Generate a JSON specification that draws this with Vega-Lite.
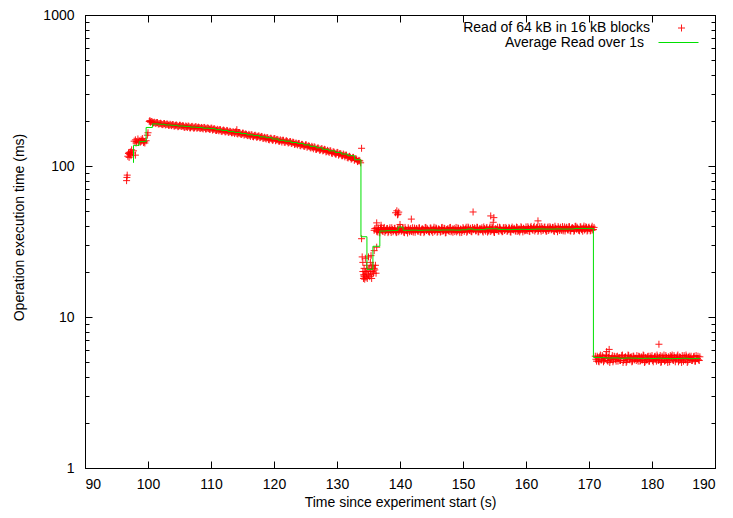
{
"$schema": "https://vega.github.io/schema/vega-lite/v6.json",
"width": 630, "height": 453,
"autosize": "none",
"padding": {"left": 85, "top": 15, "right": 18, "bottom": 50},
"background": "white",
"config": {"view": {"stroke": "#000", "strokeWidth": 1}, "font": "Liberation Sans"},
"datasets": {
"pts": [
{"t":96.6,"v":80},{"t":96.7,"v":87},{"t":96.65,"v":84},
{"t":96.8,"v":116},{"t":96.9,"v":121},{"t":97.0,"v":114},{"t":97.1,"v":119},{"t":97.2,"v":124},{"t":97.3,"v":117},{"t":97.4,"v":128},{"t":97.5,"v":122},{"t":97.7,"v":126},{"t":98.0,"v":118},{"t":97.0,"v":123},{"t":97.25,"v":120},
{"t":97.8,"v":146},{"t":98.0,"v":149},{"t":98.1,"v":142},{"t":98.2,"v":145},{"t":98.4,"v":151},{"t":98.6,"v":147},{"t":98.8,"v":144},{"t":99.0,"v":146},{"t":99.1,"v":152},{"t":99.2,"v":148},{"t":99.4,"v":145},{"t":99.5,"v":142},{"t":99.7,"v":147},{"t":98.5,"v":143},{"t":98.9,"v":149},{"t":99.3,"v":143},{"t":99.9,"v":160},{"t":100.0,"v":166},{"t":100.2,"v":197},{"t":100.3,"v":200},{"t":100.4,"v":195},
{"t":100.5,"v":197},{"t":100.75,"v":194},{"t":101.0,"v":195},{"t":101.25,"v":191},{"t":101.5,"v":194},{"t":101.75,"v":190},{"t":102.0,"v":192},{"t":102.25,"v":188},{"t":102.5,"v":191},{"t":102.75,"v":187},
{"t":103.0,"v":190},{"t":103.25,"v":186},{"t":103.5,"v":189},{"t":103.75,"v":185},{"t":104.0,"v":188},{"t":104.25,"v":184},{"t":104.5,"v":187},{"t":104.75,"v":182},{"t":105.0,"v":186},{"t":105.25,"v":183},
{"t":105.5,"v":185},{"t":105.75,"v":180},{"t":106.0,"v":184},{"t":106.25,"v":180},{"t":106.5,"v":183},{"t":106.75,"v":179},{"t":107.0,"v":183},{"t":107.25,"v":178},{"t":107.5,"v":182},{"t":107.75,"v":178},
{"t":108.0,"v":181},{"t":108.25,"v":177},{"t":108.5,"v":180},{"t":108.75,"v":176},{"t":109.0,"v":180},{"t":109.25,"v":176},{"t":109.5,"v":179},{"t":109.75,"v":175},{"t":110.0,"v":178},{"t":110.25,"v":173},
{"t":110.5,"v":177},{"t":110.75,"v":172},{"t":111.0,"v":175},{"t":111.25,"v":171},{"t":111.5,"v":174},{"t":111.75,"v":169},{"t":112.0,"v":173},{"t":112.25,"v":168},{"t":112.5,"v":172},{"t":112.75,"v":167},
{"t":113.0,"v":170},{"t":113.25,"v":166},{"t":113.5,"v":169},{"t":113.75,"v":164},{"t":114.0,"v":168},{"t":114.1,"v":174},{"t":114.25,"v":163},{"t":114.5,"v":166},{"t":114.75,"v":162},{"t":115.0,"v":165},
{"t":115.25,"v":160},{"t":115.5,"v":163},{"t":115.75,"v":159},{"t":116.0,"v":162},{"t":116.25,"v":157},{"t":116.5,"v":161},{"t":116.75,"v":156},{"t":117.0,"v":160},{"t":117.25,"v":155},{"t":117.5,"v":158},
{"t":117.75,"v":154},{"t":118.0,"v":157},{"t":118.25,"v":152},{"t":118.5,"v":155},{"t":118.75,"v":151},{"t":119.0,"v":154},{"t":119.25,"v":149},{"t":119.5,"v":153},{"t":119.75,"v":148},{"t":120.0,"v":152},
{"t":120.25,"v":147},{"t":120.5,"v":150},{"t":120.75,"v":146},{"t":121.0,"v":149},{"t":121.25,"v":144},{"t":121.5,"v":148},{"t":121.75,"v":143},{"t":122.0,"v":147},{"t":122.25,"v":142},{"t":122.5,"v":145},
{"t":122.75,"v":141},{"t":123.0,"v":144},{"t":123.25,"v":139},{"t":123.5,"v":142},{"t":123.75,"v":138},{"t":124.0,"v":141},{"t":124.25,"v":136},{"t":124.5,"v":139},{"t":124.75,"v":135},{"t":125.0,"v":138},
{"t":125.25,"v":133},{"t":125.5,"v":136},{"t":125.75,"v":132},{"t":126.0,"v":135},{"t":126.25,"v":130},{"t":126.5,"v":133},{"t":126.75,"v":129},{"t":127.0,"v":132},{"t":127.25,"v":127},{"t":127.5,"v":130},
{"t":127.75,"v":126},{"t":128.0,"v":129},{"t":128.25,"v":124},{"t":128.5,"v":127},{"t":128.75,"v":123},{"t":129.0,"v":126},{"t":129.25,"v":121},{"t":129.5,"v":124},{"t":129.75,"v":120},{"t":130.0,"v":123},
{"t":130.25,"v":118},{"t":130.5,"v":121},{"t":130.75,"v":117},{"t":131.0,"v":120},{"t":131.25,"v":115},{"t":131.5,"v":118},{"t":131.75,"v":113},{"t":132.0,"v":116},{"t":132.25,"v":111},{"t":132.5,"v":114},
{"t":132.75,"v":109},{"t":133.0,"v":112},{"t":133.25,"v":107},{"t":133.5,"v":109},{"t":133.75,"v":105},{"t":133.9,"v":131},
{"t":100.625,"v":197},{"t":100.875,"v":193},{"t":101.125,"v":193},{"t":101.375,"v":194},{"t":101.625,"v":190},{"t":101.875,"v":191},{"t":102.125,"v":190},{"t":102.375,"v":188},{"t":102.625,"v":191},{"t":102.875,"v":188},
{"t":103.125,"v":189},{"t":103.375,"v":186},{"t":103.625,"v":187},{"t":103.875,"v":188},{"t":104.125,"v":184},{"t":104.375,"v":186},{"t":104.625,"v":185},{"t":104.875,"v":183},{"t":105.125,"v":186},{"t":105.375,"v":183},
{"t":105.625,"v":184},{"t":105.875,"v":181},{"t":106.125,"v":182},{"t":106.375,"v":184},{"t":106.625,"v":179},{"t":106.875,"v":182},{"t":107.125,"v":181},{"t":107.375,"v":179},{"t":107.625,"v":182},{"t":107.875,"v":179},
{"t":108.125,"v":180},{"t":108.375,"v":178},{"t":108.625,"v":178},{"t":108.875,"v":180},{"t":109.125,"v":176},{"t":109.375,"v":178},{"t":109.625,"v":177},{"t":109.875,"v":175},{"t":110.125,"v":178},{"t":110.375,"v":175},
{"t":110.625,"v":175},{"t":110.875,"v":172},{"t":111.125,"v":173},{"t":111.375,"v":174},{"t":111.625,"v":170},{"t":111.875,"v":172},{"t":112.125,"v":171},{"t":112.375,"v":169},{"t":112.625,"v":171},{"t":112.875,"v":168},
{"t":113.125,"v":169},{"t":113.375,"v":166},{"t":113.625,"v":167},{"t":113.875,"v":168},{"t":114.125,"v":164},{"t":114.375,"v":166},{"t":114.625,"v":164},{"t":114.875,"v":162},{"t":115.125,"v":165},{"t":115.375,"v":162},
{"t":115.625,"v":162},{"t":115.875,"v":159},{"t":116.125,"v":160},{"t":116.375,"v":161},{"t":116.625,"v":157},{"t":116.875,"v":159},{"t":117.125,"v":158},{"t":117.375,"v":156},{"t":117.625,"v":158},{"t":117.875,"v":155},
{"t":118.125,"v":156},{"t":118.375,"v":153},{"t":118.625,"v":153},{"t":118.875,"v":154},{"t":119.125,"v":150},{"t":119.375,"v":152},{"t":119.625,"v":151},{"t":119.875,"v":149},{"t":120.125,"v":152},{"t":120.375,"v":149},
{"t":120.625,"v":149},{"t":120.875,"v":146},{"t":121.125,"v":147},{"t":121.375,"v":148},{"t":121.625,"v":144},{"t":121.875,"v":146},{"t":122.125,"v":145},{"t":122.375,"v":143},{"t":122.625,"v":145},{"t":122.875,"v":142},
{"t":123.125,"v":143},{"t":123.375,"v":140},{"t":123.625,"v":140},{"t":123.875,"v":141},{"t":124.125,"v":137},{"t":124.375,"v":139},{"t":124.625,"v":137},{"t":124.875,"v":135},{"t":125.125,"v":138},{"t":125.375,"v":135},
{"t":125.625,"v":135},{"t":125.875,"v":132},{"t":126.125,"v":133},{"t":126.375,"v":134},{"t":126.625,"v":129},{"t":126.875,"v":131},{"t":127.125,"v":130},{"t":127.375,"v":128},{"t":127.625,"v":130},{"t":127.875,"v":127},
{"t":128.125,"v":128},{"t":128.375,"v":125},{"t":128.625,"v":125},{"t":128.875,"v":126},{"t":129.125,"v":122},{"t":129.375,"v":124},{"t":129.625,"v":122},{"t":129.875,"v":120},{"t":130.125,"v":123},{"t":130.375,"v":120},
{"t":130.625,"v":120},{"t":130.875,"v":117},{"t":131.125,"v":118},{"t":131.375,"v":118},{"t":131.625,"v":114},{"t":131.875,"v":115},{"t":132.125,"v":114},{"t":132.375,"v":112},{"t":132.625,"v":114},{"t":132.875,"v":111},
{"t":133.125,"v":110},{"t":133.375,"v":108},{"t":133.625,"v":108},
{"t":133.9,"v":33},{"t":134.0,"v":25},{"t":134.1,"v":23},{"t":134.1,"v":20},{"t":134.2,"v":19},{"t":134.2,"v":18},{"t":134.3,"v":18.5},{"t":134.3,"v":21},{"t":134.4,"v":19},{"t":134.4,"v":17.8},
{"t":134.5,"v":20},{"t":134.5,"v":24.5},{"t":134.6,"v":18.3},{"t":134.7,"v":19.5},{"t":134.7,"v":22},{"t":134.8,"v":18},{"t":134.9,"v":20.5},{"t":135.0,"v":19},{"t":135.0,"v":25},{"t":135.1,"v":21},
{"t":135.2,"v":18.5},{"t":135.3,"v":20},{"t":135.3,"v":23},{"t":135.4,"v":19},{"t":135.4,"v":25.5},{"t":135.5,"v":21.5},{"t":135.5,"v":18},{"t":135.6,"v":20},{"t":135.7,"v":22},{"t":135.8,"v":19.5},
{"t":135.9,"v":21},{"t":135.9,"v":27.5},{"t":136.0,"v":20.5},{"t":136.1,"v":22},{"t":136.2,"v":19.5},{"t":136.3,"v":29},{"t":135.9,"v":37.5},{"t":136.0,"v":38.5},{"t":136.3,"v":42},{"t":137.0,"v":40.5},
{"t":139.3,"v":49},{"t":139.5,"v":50.5},{"t":139.7,"v":48},{"t":139.8,"v":49.5},{"t":139.6,"v":47.5},{"t":140.0,"v":41},{"t":141.8,"v":44.5},{"t":151.6,"v":49.6},{"t":154.4,"v":46.7},{"t":154.9,"v":45.5},{"t":154.8,"v":42.4},{"t":161.9,"v":43.3},
{"t":136.2,"v":38.8},{"t":136.4,"v":36.6},{"t":136.6,"v":38.0},{"t":136.8,"v":36.1},{"t":137.0,"v":39.1},{"t":137.2,"v":37.2},{"t":137.4,"v":38.4},{"t":137.6,"v":36.4},{"t":137.8,"v":37.6},{"t":138.0,"v":38.6},
{"t":138.2,"v":36.9},{"t":138.4,"v":39.0},{"t":138.6,"v":36.3},{"t":138.8,"v":37.9},{"t":139.0,"v":37.4},{"t":139.2,"v":38.7},{"t":139.4,"v":36.2},{"t":139.6,"v":38.2},{"t":139.8,"v":36.7},{"t":140.0,"v":38.9},
{"t":140.2,"v":37.0},{"t":140.4,"v":38.5},{"t":140.6,"v":36.5},{"t":140.8,"v":39.2},{"t":141.0,"v":37.3},{"t":141.2,"v":36.0},{"t":141.4,"v":38.1},{"t":141.6,"v":37.7},{"t":141.8,"v":36.8},{"t":142.0,"v":39.0},
{"t":142.2,"v":37.5},{"t":142.4,"v":36.4},{"t":142.6,"v":38.6},{"t":142.8,"v":37.1},{"t":143.0,"v":38.9},{"t":143.2,"v":36.6},{"t":143.4,"v":37.8},{"t":143.6,"v":38.3},{"t":143.8,"v":36.2},{"t":144.0,"v":39.1},
{"t":144.2,"v":37.4},{"t":144.4,"v":38.0},{"t":144.6,"v":36.7},{"t":144.8,"v":38.8},{"t":145.0,"v":37.2},{"t":145.2,"v":36.3},{"t":145.4,"v":39.3},{"t":145.6,"v":37.6},{"t":145.8,"v":38.4},{"t":146.0,"v":36.9},
{"t":146.2,"v":38.1},{"t":146.4,"v":36.5},{"t":146.6,"v":39.0},{"t":146.8,"v":37.0},{"t":147.0,"v":38.7},{"t":147.2,"v":36.1},{"t":147.4,"v":37.9},{"t":147.6,"v":38.5},{"t":147.8,"v":36.8},{"t":148.0,"v":39.2},
{"t":148.2,"v":37.3},{"t":148.4,"v":36.4},{"t":148.6,"v":38.6},{"t":148.8,"v":37.7},{"t":149.0,"v":36.6},{"t":149.2,"v":38.9},{"t":149.4,"v":37.1},{"t":149.6,"v":38.2},{"t":149.8,"v":36.3},
{"t":150.0,"v":39.1},{"t":150.2,"v":36.9},{"t":150.4,"v":38.3},{"t":150.6,"v":36.4},{"t":150.8,"v":39.4},{"t":151.0,"v":37.5},{"t":151.2,"v":38.7},{"t":151.4,"v":36.7},{"t":151.6,"v":37.9},{"t":151.8,"v":38.9},
{"t":152.0,"v":37.2},{"t":152.2,"v":39.3},{"t":152.4,"v":36.6},{"t":152.6,"v":38.2},{"t":152.8,"v":37.7},{"t":153.0,"v":39.0},{"t":153.2,"v":36.5},{"t":153.4,"v":38.5},{"t":153.6,"v":37.0},{"t":153.8,"v":39.2},
{"t":154.0,"v":37.4},{"t":154.2,"v":38.8},{"t":154.4,"v":36.8},{"t":154.6,"v":39.5},{"t":154.8,"v":37.6},{"t":155.0,"v":36.3},{"t":155.2,"v":38.4},{"t":155.4,"v":38.0},{"t":155.6,"v":37.1},{"t":155.8,"v":39.3},
{"t":156.0,"v":37.8},{"t":156.2,"v":36.7},{"t":156.4,"v":38.9},{"t":156.6,"v":37.4},{"t":156.8,"v":39.2},{"t":157.0,"v":36.9},{"t":157.2,"v":38.1},{"t":157.4,"v":38.6},{"t":157.6,"v":36.5},{"t":157.8,"v":39.4},
{"t":158.0,"v":37.7},{"t":158.2,"v":38.3},{"t":158.4,"v":37.0},{"t":158.6,"v":39.1},{"t":158.8,"v":37.5},{"t":159.0,"v":36.6},{"t":159.2,"v":39.6},{"t":159.4,"v":37.9},{"t":159.6,"v":38.7},{"t":159.8,"v":37.2},
{"t":160.0,"v":39.5},{"t":160.2,"v":37.3},{"t":160.4,"v":38.7},{"t":160.6,"v":36.8},{"t":160.8,"v":39.8},{"t":161.0,"v":37.9},{"t":161.2,"v":39.1},{"t":161.4,"v":37.1},{"t":161.6,"v":38.3},{"t":161.8,"v":39.3},
{"t":162.0,"v":37.6},{"t":162.2,"v":39.7},{"t":162.4,"v":37.0},{"t":162.6,"v":38.6},{"t":162.8,"v":38.1},{"t":163.0,"v":39.4},{"t":163.2,"v":36.9},{"t":163.4,"v":38.9},{"t":163.6,"v":37.4},{"t":163.8,"v":39.6},
{"t":164.0,"v":37.8},{"t":164.2,"v":39.2},{"t":164.4,"v":37.2},{"t":164.6,"v":39.9},{"t":164.8,"v":38.0},{"t":165.0,"v":36.7},{"t":165.2,"v":38.8},{"t":165.4,"v":38.4},{"t":165.6,"v":37.5},{"t":165.8,"v":39.7},
{"t":166.0,"v":38.2},{"t":166.2,"v":37.1},{"t":166.4,"v":39.3},{"t":166.6,"v":37.8},{"t":166.8,"v":39.6},{"t":167.0,"v":37.3},{"t":167.2,"v":38.5},{"t":167.4,"v":39.0},{"t":167.6,"v":36.9},{"t":167.8,"v":39.8},
{"t":168.0,"v":38.1},{"t":168.2,"v":38.7},{"t":168.4,"v":37.4},{"t":168.6,"v":39.5},{"t":168.8,"v":37.9},{"t":169.0,"v":37.0},{"t":169.2,"v":40.0},{"t":169.4,"v":38.3},{"t":169.6,"v":39.1},{"t":169.8,"v":37.6},
{"t":170.0,"v":39.4},{"t":170.2,"v":37.2},{"t":170.4,"v":38.9},{"t":170.6,"v":37.7},{"t":170.8,"v":39.2},
{"t":136.3,"v":37.0},{"t":136.5,"v":38.9},{"t":136.7,"v":36.4},{"t":136.9,"v":38.3},{"t":137.1,"v":37.8},{"t":137.3,"v":36.8},{"t":137.5,"v":39.2},{"t":137.7,"v":37.3},{"t":137.9,"v":38.5},{"t":138.1,"v":36.2},
{"t":138.3,"v":38.0},{"t":138.5,"v":37.5},{"t":138.7,"v":39.0},{"t":138.9,"v":36.7},{"t":139.1,"v":38.6},{"t":139.3,"v":37.1},{"t":139.5,"v":36.5},{"t":139.7,"v":38.8},{"t":139.9,"v":37.6},{"t":140.1,"v":38.2},
{"t":140.3,"v":37.3},{"t":140.5,"v":38.5},{"t":140.7,"v":36.2},{"t":140.9,"v":38.0},{"t":141.1,"v":37.5},{"t":141.3,"v":39.0},{"t":141.5,"v":36.7},{"t":141.7,"v":38.6},{"t":141.9,"v":37.1},{"t":142.1,"v":36.5},
{"t":142.3,"v":38.8},{"t":142.5,"v":37.6},{"t":142.7,"v":38.2},{"t":142.9,"v":37.0},{"t":143.1,"v":38.9},{"t":143.3,"v":36.4},{"t":143.5,"v":38.3},{"t":143.7,"v":37.8},{"t":143.9,"v":36.8},{"t":144.1,"v":39.2},
{"t":144.3,"v":38.6},{"t":144.5,"v":37.1},{"t":144.7,"v":36.5},{"t":144.9,"v":38.8},{"t":145.1,"v":37.6},{"t":145.3,"v":38.2},{"t":145.5,"v":37.0},{"t":145.7,"v":38.9},{"t":145.9,"v":36.4},{"t":146.1,"v":38.3},
{"t":146.3,"v":37.8},{"t":146.5,"v":36.8},{"t":146.7,"v":39.2},{"t":146.9,"v":37.3},{"t":147.1,"v":38.5},{"t":147.3,"v":36.2},{"t":147.5,"v":38.0},{"t":147.7,"v":37.5},{"t":147.9,"v":39.0},{"t":148.1,"v":36.7},
{"t":148.3,"v":38.3},{"t":148.5,"v":37.8},{"t":148.7,"v":36.8},{"t":148.9,"v":39.2},{"t":149.1,"v":37.3},{"t":149.3,"v":38.5},{"t":149.5,"v":36.2},{"t":149.7,"v":38.0},{"t":149.9,"v":37.5},
{"t":150.1,"v":38.3},{"t":150.3,"v":37.8},{"t":150.5,"v":39.3},{"t":150.7,"v":37.0},{"t":150.9,"v":38.9},{"t":151.1,"v":37.4},{"t":151.3,"v":36.8},{"t":151.5,"v":39.1},{"t":151.7,"v":37.9},{"t":151.9,"v":38.5},
{"t":152.1,"v":37.3},{"t":152.3,"v":39.2},{"t":152.5,"v":36.7},{"t":152.7,"v":38.6},{"t":152.9,"v":38.1},{"t":153.1,"v":37.1},{"t":153.3,"v":39.5},{"t":153.5,"v":37.6},{"t":153.7,"v":38.8},{"t":153.9,"v":36.5},
{"t":154.1,"v":37.1},{"t":154.3,"v":39.5},{"t":154.5,"v":37.6},{"t":154.7,"v":38.8},{"t":154.9,"v":36.5},{"t":155.1,"v":38.3},{"t":155.3,"v":37.8},{"t":155.5,"v":39.3},{"t":155.7,"v":37.0},{"t":155.9,"v":38.9},
{"t":156.1,"v":37.4},{"t":156.3,"v":36.8},{"t":156.5,"v":39.1},{"t":156.7,"v":37.9},{"t":156.9,"v":38.5},{"t":157.1,"v":37.3},{"t":157.3,"v":39.2},{"t":157.5,"v":36.7},{"t":157.7,"v":38.6},{"t":157.9,"v":38.1},
{"t":158.1,"v":38.7},{"t":158.3,"v":37.2},{"t":158.5,"v":39.4},{"t":158.7,"v":36.9},{"t":158.9,"v":38.4},{"t":159.1,"v":37.7},{"t":159.3,"v":39.0},{"t":159.5,"v":36.6},{"t":159.7,"v":38.2},{"t":159.9,"v":37.5},
{"t":160.1,"v":37.7},{"t":160.3,"v":39.6},{"t":160.5,"v":37.1},{"t":160.7,"v":39.0},{"t":160.9,"v":38.5},{"t":161.1,"v":37.5},{"t":161.3,"v":39.9},{"t":161.5,"v":38.0},{"t":161.7,"v":39.2},{"t":161.9,"v":36.9},
{"t":162.1,"v":38.7},{"t":162.3,"v":38.2},{"t":162.5,"v":39.7},{"t":162.7,"v":37.4},{"t":162.9,"v":39.3},{"t":163.1,"v":37.8},{"t":163.3,"v":37.2},{"t":163.5,"v":39.5},{"t":163.7,"v":38.3},{"t":163.9,"v":38.9},
{"t":164.1,"v":38.0},{"t":164.3,"v":39.2},{"t":164.5,"v":36.9},{"t":164.7,"v":38.7},{"t":164.9,"v":38.2},{"t":165.1,"v":39.7},{"t":165.3,"v":37.4},{"t":165.5,"v":39.3},{"t":165.7,"v":37.8},{"t":165.9,"v":37.2},
{"t":166.1,"v":39.5},{"t":166.3,"v":38.3},{"t":166.5,"v":38.9},{"t":166.7,"v":37.7},{"t":166.9,"v":39.6},{"t":167.1,"v":37.1},{"t":167.3,"v":39.0},{"t":167.5,"v":38.5},{"t":167.7,"v":37.5},{"t":167.9,"v":39.9},
{"t":168.1,"v":39.3},{"t":168.3,"v":37.8},{"t":168.5,"v":37.2},{"t":168.7,"v":39.5},{"t":168.9,"v":38.3},{"t":169.1,"v":38.9},{"t":169.3,"v":37.7},{"t":169.5,"v":39.6},{"t":169.7,"v":37.1},{"t":169.9,"v":39.0},
{"t":170.1,"v":38.5},{"t":170.3,"v":37.5},{"t":170.5,"v":39.9},{"t":170.7,"v":38.0},
{"t":171.0,"v":5.5},{"t":171.2,"v":5.1},{"t":171.4,"v":5.4},{"t":171.6,"v":5.05},{"t":171.8,"v":5.6},{"t":172.0,"v":5.2},{"t":172.2,"v":5.45},{"t":172.4,"v":5.15},{"t":172.6,"v":5.3},{"t":172.8,"v":5.55},
{"t":173.0,"v":5.1},{"t":173.2,"v":5.5},{"t":173.4,"v":5.2},{"t":173.6,"v":5.35},{"t":173.8,"v":5.05},{"t":174.0,"v":5.5},{"t":174.2,"v":5.25},{"t":174.4,"v":5.45},{"t":174.6,"v":5.1},{"t":174.8,"v":5.4},
{"t":175.0,"v":5.15},{"t":175.2,"v":5.55},{"t":175.4,"v":5.0},{"t":175.6,"v":5.35},{"t":175.8,"v":5.45},{"t":176.0,"v":5.1},{"t":176.2,"v":5.6},{"t":176.4,"v":5.25},{"t":176.6,"v":5.4},{"t":176.8,"v":5.05},
{"t":177.0,"v":5.5},{"t":177.2,"v":5.2},{"t":177.4,"v":5.3},{"t":177.6,"v":5.55},{"t":177.8,"v":5.1},{"t":178.0,"v":5.45},{"t":178.2,"v":5.15},{"t":178.4,"v":5.35},{"t":178.6,"v":5.6},{"t":178.8,"v":5.0},
{"t":179.0,"v":5.4},{"t":179.2,"v":5.2},{"t":179.4,"v":5.5},{"t":179.6,"v":5.1},{"t":179.8,"v":5.35},{"t":180.0,"v":5.55},{"t":180.2,"v":5.05},{"t":180.4,"v":5.45},{"t":180.6,"v":5.25},{"t":180.8,"v":5.6},
{"t":181.0,"v":5.15},{"t":181.2,"v":5.4},{"t":181.4,"v":5.0},{"t":181.6,"v":5.5},{"t":181.8,"v":5.3},{"t":182.0,"v":5.1},{"t":182.2,"v":5.55},{"t":182.4,"v":5.2},{"t":182.6,"v":5.45},{"t":182.8,"v":5.05},
{"t":183.0,"v":5.35},{"t":183.2,"v":5.6},{"t":183.4,"v":5.15},{"t":183.6,"v":5.4},{"t":183.8,"v":5.25},{"t":184.0,"v":5.5},{"t":184.2,"v":5.05},{"t":184.4,"v":5.45},{"t":184.6,"v":5.2},{"t":184.8,"v":5.55},
{"t":185.0,"v":5.1},{"t":185.2,"v":5.35},{"t":185.4,"v":5.6},{"t":185.6,"v":5.0},{"t":185.8,"v":5.4},{"t":186.0,"v":5.25},{"t":186.2,"v":5.5},{"t":186.4,"v":5.15},{"t":186.6,"v":5.45},{"t":186.8,"v":5.1},
{"t":187.0,"v":5.55},{"t":187.2,"v":5.3},{"t":187.4,"v":5.2},{"t":187.6,"v":5.45},
{"t":171.1,"v":5.25},{"t":171.3,"v":5.5},{"t":171.5,"v":5.1},{"t":171.7,"v":5.45},{"t":171.9,"v":5.2},{"t":172.1,"v":5.55},{"t":172.3,"v":5.05},{"t":172.5,"v":5.35},{"t":172.7,"v":5.6},{"t":172.9,"v":5.15},
{"t":173.1,"v":5.4},{"t":173.3,"v":5.0},{"t":173.5,"v":5.3},{"t":173.7,"v":5.55},{"t":173.9,"v":5.2},{"t":174.1,"v":5.45},{"t":174.3,"v":5.1},{"t":174.5,"v":5.5},{"t":174.7,"v":5.35},{"t":174.9,"v":5.15},
{"t":175.1,"v":5.35},{"t":175.3,"v":5.6},{"t":175.5,"v":5.15},{"t":175.7,"v":5.4},{"t":175.9,"v":5.0},{"t":176.1,"v":5.3},{"t":176.3,"v":5.55},{"t":176.5,"v":5.2},{"t":176.7,"v":5.45},{"t":176.9,"v":5.1},
{"t":177.1,"v":5.5},{"t":177.3,"v":5.35},{"t":177.5,"v":5.15},{"t":177.7,"v":5.25},{"t":177.9,"v":5.5},{"t":178.1,"v":5.1},{"t":178.3,"v":5.45},{"t":178.5,"v":5.2},{"t":178.7,"v":5.55},{"t":178.9,"v":5.05},
{"t":179.1,"v":5.2},{"t":179.3,"v":5.45},{"t":179.5,"v":5.1},{"t":179.7,"v":5.5},{"t":179.9,"v":5.35},{"t":180.1,"v":5.15},{"t":180.3,"v":5.25},{"t":180.5,"v":5.5},{"t":180.7,"v":5.1},{"t":180.9,"v":5.45},
{"t":181.1,"v":5.2},{"t":181.3,"v":5.55},{"t":181.5,"v":5.05},{"t":181.7,"v":5.35},{"t":181.9,"v":5.6},{"t":182.1,"v":5.15},{"t":182.3,"v":5.4},{"t":182.5,"v":5.0},{"t":182.7,"v":5.3},{"t":182.9,"v":5.55},
{"t":183.1,"v":5.45},{"t":183.3,"v":5.2},{"t":183.5,"v":5.55},{"t":183.7,"v":5.05},{"t":183.9,"v":5.35},{"t":184.1,"v":5.6},{"t":184.3,"v":5.15},{"t":184.5,"v":5.4},{"t":184.7,"v":5.0},{"t":184.9,"v":5.3},
{"t":185.1,"v":5.55},{"t":185.3,"v":5.2},{"t":185.5,"v":5.45},{"t":185.7,"v":5.1},{"t":185.9,"v":5.5},{"t":186.1,"v":5.35},{"t":186.3,"v":5.15},{"t":186.5,"v":5.25},{"t":186.7,"v":5.5},{"t":186.9,"v":5.1},
{"t":187.1,"v":5.3},{"t":187.3,"v":5.5},{"t":187.5,"v":5.15},
{"t":172.8,"v":5.9},{"t":173.2,"v":6.1},{"t":181.1,"v":6.6}
],
"avg": [
{"t":97.7,"v":105},{"t":97.7,"v":137},{"t":98.6,"v":145},{"t":99.7,"v":180},{"t":100.7,"v":190},{"t":101.7,"v":189},{"t":102.7,"v":187},{"t":103.7,"v":186},{"t":104.7,"v":184},{"t":105.7,"v":183},
{"t":106.7,"v":181},{"t":107.7,"v":180},{"t":108.7,"v":178},{"t":109.7,"v":177},{"t":110.7,"v":174},{"t":111.7,"v":172},{"t":112.7,"v":169},{"t":113.7,"v":167},{"t":114.7,"v":164},{"t":115.7,"v":161},
{"t":116.7,"v":159},{"t":117.7,"v":156},{"t":118.7,"v":154},{"t":119.7,"v":151},{"t":120.7,"v":148},{"t":121.7,"v":146},{"t":122.7,"v":143},{"t":123.7,"v":141},{"t":124.7,"v":138},{"t":125.7,"v":135},
{"t":126.7,"v":132},{"t":127.7,"v":129},{"t":128.7,"v":126},{"t":129.7,"v":123},{"t":130.7,"v":120},{"t":131.7,"v":117},{"t":132.8,"v":110},{"t":133.8,"v":34},{"t":134.75,"v":20.7},{"t":135.7,"v":29.4},
{"t":136.8,"v":37.1},{"t":137.8,"v":37.3},{"t":138.7,"v":37.4},{"t":139.7,"v":39.4},{"t":140.5,"v":37.5},{"t":141.7,"v":37.6},{"t":142.7,"v":37.5},{"t":143.7,"v":37.6},{"t":144.7,"v":37.7},{"t":145.7,"v":37.6},
{"t":146.7,"v":37.7},{"t":147.7,"v":37.7},{"t":148.7,"v":37.6},{"t":149.7,"v":37.8},{"t":150.7,"v":38.3},{"t":151.6,"v":37.8},{"t":152.7,"v":37.9},{"t":153.6,"v":38.4},{"t":155.6,"v":38.0},{"t":156.7,"v":37.9},
{"t":157.7,"v":38.0},{"t":158.7,"v":38.1},{"t":159.7,"v":38.0},{"t":160.7,"v":38.1},{"t":161.7,"v":38.3},{"t":162.7,"v":38.2},{"t":163.7,"v":38.2},{"t":164.7,"v":38.3},{"t":165.7,"v":38.2},{"t":166.7,"v":38.3},
{"t":167.7,"v":38.6},{"t":168.7,"v":38.6},{"t":169.7,"v":38.6},{"t":170.7,"v":5.4},{"t":171.7,"v":5.38},{"t":172.7,"v":5.35},{"t":173.7,"v":5.36},{"t":174.7,"v":5.33},{"t":175.7,"v":5.35},{"t":176.7,"v":5.34},
{"t":177.7,"v":5.32},{"t":178.7,"v":5.33},{"t":179.7,"v":5.31},{"t":180.7,"v":5.33},{"t":181.7,"v":5.32},{"t":182.7,"v":5.3},{"t":183.7,"v":5.31},{"t":184.7,"v":5.33},{"t":185.7,"v":5.3},{"t":186.7,"v":5.32},{"t":187.6,"v":5.32}
]
},
"layer": [
{
"data": {"name": "pts"},
"mark": {"type": "point", "shape": "M-1,0H1M0,-1V1", "filled": false, "strokeWidth": 1, "size": 49, "opacity": 0.9, "clip": true},
"encoding": {
"x": {"field": "t", "type": "quantitative", "scale": {"domain": [90, 190], "nice": false, "zero": false},
 "axis": {"orient": "bottom", "values": [90,100,110,120,130,140,150,160,170,180,190], "title": "Time since experiment start (s)", "grid": false,
 "tickSize": -7, "labelPadding": 16, "labelFontSize": 14, "titleFontSize": 14, "titleFontWeight": "normal", "labelColor": "#000", "titleColor": "#000",
 "domainColor": "#000", "tickColor": "#000", "labelFont": "Liberation Sans", "titleFont": "Liberation Sans", "titleY": 34, "titleBaseline": "middle"}},
"y": {"field": "v", "type": "quantitative", "scale": {"type": "log", "domain": [1, 1000], "nice": false},
 "axis": {"orient": "left", "values": [1,2,3,4,5,6,7,8,9,10,20,30,40,50,60,70,80,90,100,200,300,400,500,600,700,800,900,1000],
 "labelExpr": "(datum.value==1||datum.value==10||datum.value==100||datum.value==1000) ? format(datum.value,'d') : ''",
 "labelOverlap": false, "labelFlush": false,
 "tickSize": {"condition": {"test": "datum.value==1||datum.value==10||datum.value==100||datum.value==1000", "value": -7}, "value": -4},
 "labelPadding": 18, "title": "Operation execution time (ms)", "grid": false, "labelFontSize": 14, "titleFontSize": 14, "titleFontWeight": "normal",
 "labelColor": "#000", "titleColor": "#000", "domainColor": "#000", "tickColor": "#000", "labelFont": "Liberation Sans", "titleFont": "Liberation Sans",
 "titleX": -66, "titleY": 212, "titleBaseline": "middle"}},
"color": {"datum": "Read of 64 kB in 16 kB blocks", "type": "nominal", "scale": {"range": ["#ff0000"]},
 "legend": {"orient": "none", "legendX": 589.5, "legendY": 6, "title": null, "symbolType": "M-1,0H1M0,-1V1", "symbolSize": 49, "symbolStrokeWidth": 1,
 "symbolStrokeColor": "#ff0000", "symbolFillColor": "transparent", "labelAlign": "right", "labelOffset": -38.5, "labelLimit": 0, "labelFontSize": 14, "labelFont": "Liberation Sans", "labelColor": "#000", "padding": 0}}
}
},
{
"data": {"name": "avg"},
"mark": {"type": "line", "interpolate": "step-after", "strokeWidth": 1, "clip": true},
"encoding": {
"x": {"field": "t", "type": "quantitative", "scale": {"domain": [90, 190], "nice": false, "zero": false},
 "axis": {"orient": "top", "values": [90,100,110,120,130,140,150,160,170,180,190], "labels": false, "title": null, "grid": false, "tickSize": -7, "domainColor": "#000", "tickColor": "#000"}},
"y": {"field": "v", "type": "quantitative", "scale": {"type": "log", "domain": [1, 1000], "nice": false},
 "axis": {"orient": "right", "values": [1,2,3,4,5,6,7,8,9,10,20,30,40,50,60,70,80,90,100,200,300,400,500,600,700,800,900,1000], "labels": false, "title": null, "grid": false,
 "tickSize": {"condition": {"test": "datum.value==1||datum.value==10||datum.value==100||datum.value==1000", "value": -7}, "value": -4},
 "domainColor": "#000", "tickColor": "#000"}},
"stroke": {"datum": "Average Read over 1s", "type": "nominal", "scale": {"range": ["#00e000"]},
 "legend": {"orient": "none", "legendX": 573, "legendY": 7, "title": null, "symbolType": "stroke", "symbolSize": 1600, "symbolStrokeWidth": 1, "symbolStrokeColor": "#00e000",
 "labelAlign": "right", "labelOffset": -55, "labelLimit": 0, "labelFontSize": 14, "labelFont": "Liberation Sans", "labelColor": "#000", "padding": 0}}
}
}
],
"resolve": {"axis": {"x": "independent", "y": "independent"}}
}
